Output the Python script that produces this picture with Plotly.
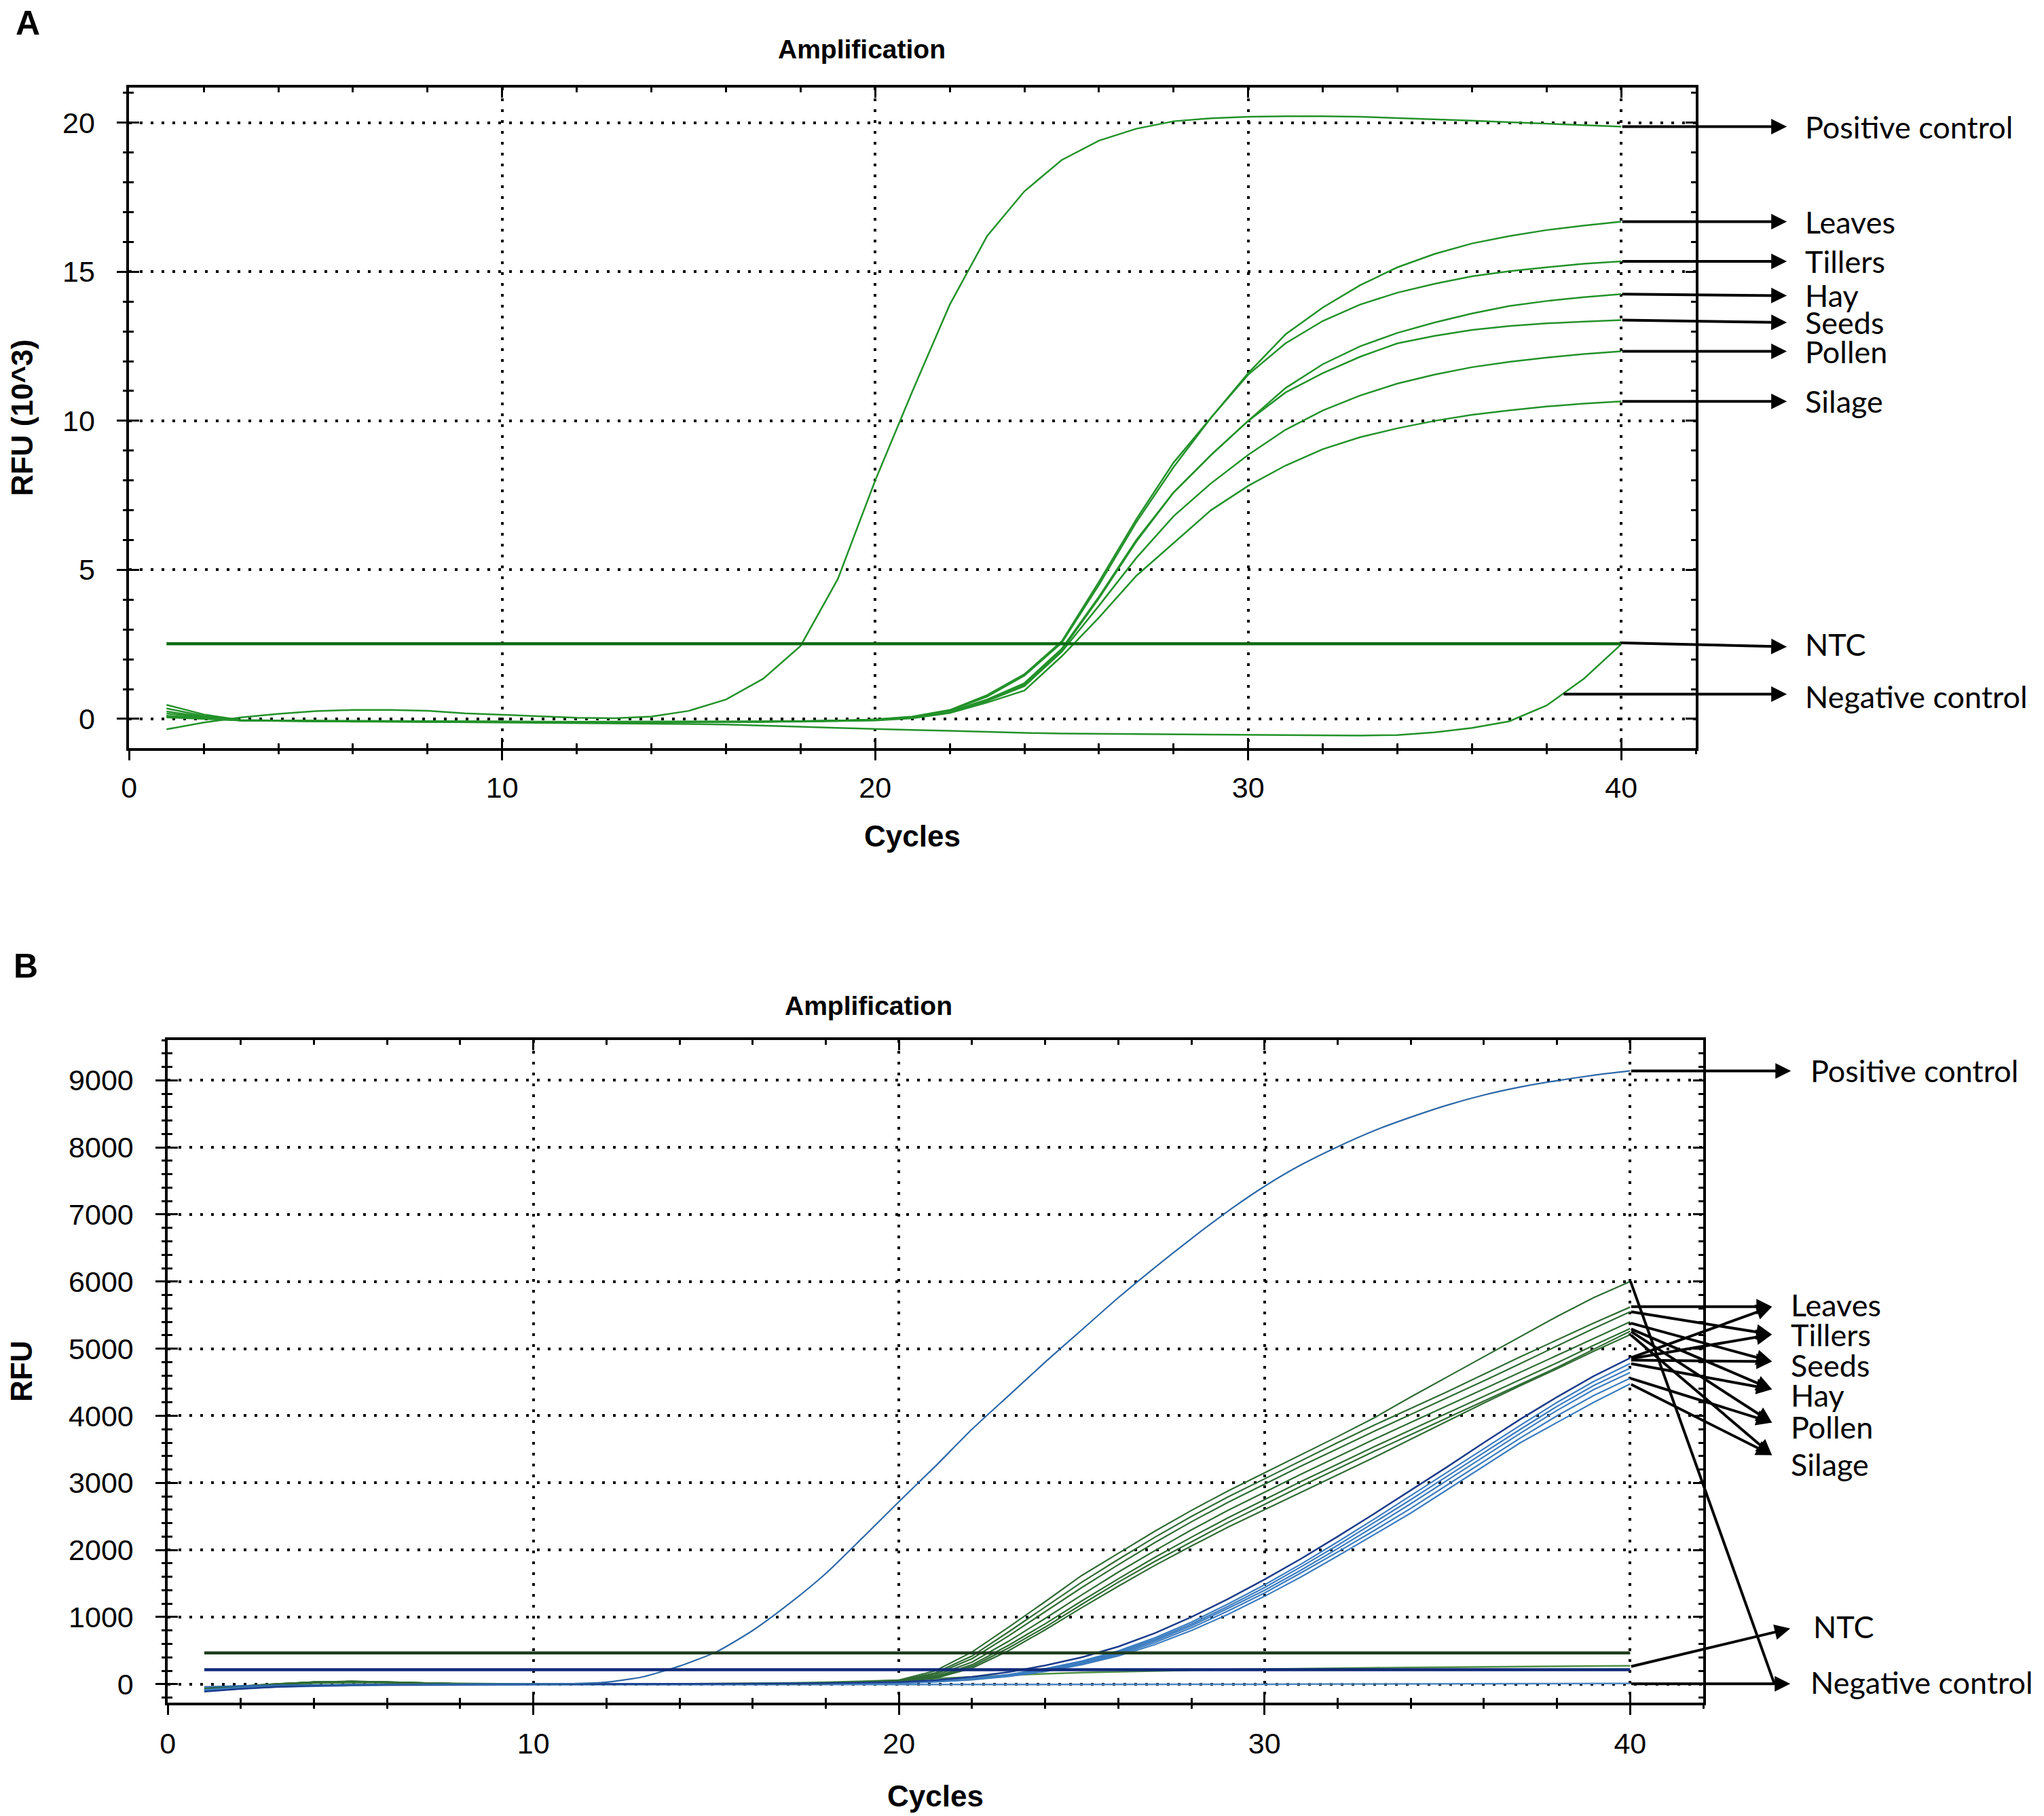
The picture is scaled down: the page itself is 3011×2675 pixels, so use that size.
import plotly.graph_objects as go

W, H = 3011, 2675
PAGE = 8  # default body margin of the html page, in px

cycles = list(range(1, 41))
x_ticks = [0, 10, 20, 30, 40]

# ---------------- panel A : RFU (10^3) ----------------
a_y_ticks = [0, 5, 10, 15, 20]

a_positive = [-0.35, -0.12, 0.05, 0.17, 0.26, 0.3, 0.3, 0.27, 0.19, 0.14,
              0.08, 0.04, 0.02, 0.08, 0.27, 0.65, 1.35, 2.45, 4.7, 8.0,
              11.0, 13.9, 16.2, 17.7, 18.75, 19.4, 19.8, 20.05, 20.15, 20.2,
              20.22, 20.22, 20.2, 20.16, 20.12, 20.07, 20.02, 19.97, 19.92, 19.87]
a_leaves = [0.47, 0.15, -0.04, -0.06, -0.07, -0.08, -0.08, -0.09, -0.09, -0.1,
            -0.1, -0.1, -0.1, -0.1, -0.1, -0.09, -0.09, -0.08, -0.06, -0.02,
            0.08, 0.3, 0.8, 1.5, 2.6, 4.6, 6.7, 8.6, 10.1, 11.6,
            12.9, 13.8, 14.55, 15.15, 15.6, 15.95, 16.2, 16.4, 16.55, 16.68]
a_tillers = [0.35, 0.1, -0.05, -0.07, -0.08, -0.09, -0.09, -0.1, -0.1, -0.11,
             -0.11, -0.11, -0.11, -0.11, -0.1, -0.1, -0.09, -0.08, -0.06, -0.02,
             0.07, 0.28, 0.75, 1.45, 2.55, 4.5, 6.6, 8.45, 10.1, 11.55,
             12.6, 13.35, 13.9, 14.3, 14.6, 14.85, 15.02, 15.15, 15.27, 15.35]
a_hay = [0.25, 0.07, -0.05, -0.07, -0.08, -0.08, -0.09, -0.09, -0.1, -0.1,
         -0.1, -0.11, -0.11, -0.1, -0.1, -0.1, -0.09, -0.08, -0.06, -0.03,
         0.06, 0.25, 0.65, 1.2, 2.35, 4.1, 6.0, 7.6, 8.85, 10.0,
         11.1, 11.9, 12.5, 12.95, 13.3, 13.6, 13.85, 14.02, 14.15, 14.25]
a_seeds = [0.18, 0.05, -0.05, -0.06, -0.07, -0.08, -0.08, -0.09, -0.09, -0.1,
           -0.1, -0.1, -0.1, -0.1, -0.1, -0.09, -0.09, -0.08, -0.06, -0.03,
           0.05, 0.24, 0.62, 1.15, 2.3, 4.05, 5.95, 7.6, 8.85, 10.0,
           10.95, 11.6, 12.15, 12.6, 12.85, 13.05, 13.18, 13.27, 13.33, 13.38]
a_pollen = [0.1, 0.02, -0.05, -0.06, -0.07, -0.07, -0.08, -0.08, -0.09, -0.09,
            -0.1, -0.1, -0.1, -0.1, -0.1, -0.1, -0.09, -0.08, -0.07, -0.04,
            0.04, 0.22, 0.6, 1.1, 2.25, 3.8, 5.4, 6.8, 7.9, 8.86,
            9.7, 10.35, 10.85, 11.25, 11.55, 11.8, 11.98, 12.12, 12.24, 12.33]
a_silage = [0.05, 0.0, -0.05, -0.06, -0.06, -0.07, -0.07, -0.08, -0.08, -0.09,
            -0.09, -0.1, -0.1, -0.1, -0.1, -0.1, -0.09, -0.09, -0.07, -0.05,
            0.02, 0.2, 0.55, 0.95, 2.1, 3.4, 4.8, 5.9, 7.0, 7.82,
            8.5, 9.05, 9.45, 9.75, 10.0, 10.2, 10.35, 10.48, 10.58, 10.65]
a_negative = [0.1, 0.02, -0.04, -0.06, -0.07, -0.08, -0.09, -0.1, -0.1, -0.11,
              -0.12, -0.13, -0.14, -0.15, -0.17, -0.19, -0.22, -0.26, -0.3, -0.34,
              -0.37, -0.4, -0.44, -0.47, -0.49, -0.5, -0.51, -0.52, -0.53, -0.54,
              -0.55, -0.56, -0.56, -0.54, -0.45, -0.3, -0.08, 0.45, 1.35, 2.5]
a_threshold = 2.52

a_labels = ["Positive control", "Leaves", "Tillers", "Hay", "Seeds",
            "Pollen", "Silage", "NTC", "Negative control"]
a_label_y = [19.87, 16.68, 15.35, 14.2, 13.3, 12.33, 10.65, 2.5, 0.75]
a_arrow_tail = [(40, 19.87), (40, 16.68), (40, 15.35), (40, 14.25), (40, 13.38),
                (40, 12.33), (40, 10.65), (40, 2.55), (38.43, 0.83)]
a_arrow_head_y = [19.87, 16.68, 15.35, 14.2, 13.3, 12.33, 10.65, 2.42, 0.83]

# ---------------- panel B : RFU ----------------
b_y_ticks = [0, 1000, 2000, 3000, 4000, 5000, 6000, 7000, 8000, 9000]

b_positive = [-40, -25, -15, -10, -5, -3, -2, -1, 0, 2,
              6, 30, 110, 270, 480, 800, 1200, 1650, 2180, 2720,
              3250, 3800, 4300, 4800, 5280, 5760, 6210, 6640, 7050, 7420,
              7740, 8010, 8250, 8450, 8630, 8780, 8900, 8995, 9075, 9140]

b_green = [
    [-90, -45, -5, 30, 40, 30, 15, 5, 0, 0,
     0, 0, 0, 0, 0, 5, 10, 20, 35, 60,
     200, 480, 850, 1230, 1620, 1950, 2280, 2590, 2880, 3150,
     3420, 3690, 3970, 4280, 4580, 4880, 5180, 5480, 5760, 6000],
    [-85, -40, -2, 32, 42, 32, 16, 6, 1, 0,
     0, 0, 0, 0, 0, 4, 8, 16, 30, 50,
     170, 420, 780, 1150, 1520, 1860, 2190, 2500, 2790, 3060,
     3330, 3600, 3860, 4110, 4360, 4620, 4880, 5130, 5380, 5620],
    [-80, -38, 0, 28, 38, 28, 14, 5, 1, 0,
     0, 0, 0, 0, 0, 4, 7, 14, 27, 45,
     150, 380, 720, 1080, 1440, 1780, 2110, 2420, 2710, 2980,
     3250, 3510, 3770, 4020, 4270, 4520, 4780, 5040, 5300, 5550],
    [-75, -35, 2, 30, 40, 30, 15, 6, 2, 0,
     0, 0, 0, 0, 0, 3, 6, 12, 24, 40,
     130, 330, 640, 980, 1330, 1670, 1990, 2300, 2590, 2860,
     3130, 3390, 3650, 3900, 4150, 4400, 4650, 4900, 5150, 5400],
    [-70, -32, 4, 32, 42, 32, 16, 6, 2, 0,
     0, 0, 0, 0, 0, 3, 5, 10, 20, 35,
     110, 290, 580, 900, 1240, 1570, 1890, 2190, 2480, 2750,
     3020, 3280, 3540, 3790, 4040, 4290, 4540, 4790, 5050, 5300],
    [-65, -30, 5, 30, 38, 28, 14, 5, 1, 0,
     0, 0, 0, 0, 0, 2, 5, 9, 18, 32,
     100, 265, 540, 850, 1190, 1520, 1830, 2120, 2410, 2680,
     2950, 3210, 3470, 3720, 3970, 4220, 4470, 4720, 4990, 5260],
    [-60, -28, 6, 28, 36, 26, 12, 4, 1, 0,
     0, 0, 0, 0, 0, 2, 4, 8, 16, 30,
     90, 240, 500, 810, 1140, 1460, 1770, 2060, 2340, 2600,
     2860, 3120, 3380, 3650, 3920, 4190, 4450, 4700, 4960, 5210],
]

b_blue_dark = [-110, -70, -40, -22, -12, -8, -5, -3, -2, -1,
               0, 0, 0, 2, 4, 6, 10, 15, 20, 30,
               60, 110, 180, 280, 400, 560, 760, 1000, 1270, 1560,
               1870, 2200, 2540, 2890, 3240, 3600, 3950, 4280, 4590, 4860]
b_blue = [
    [-105, -66, -38, -20, -11, -7, -4, -3, -2, -1,
     0, 0, 0, 1, 3, 5, 8, 12, 17, 24,
     45, 85, 145, 230, 345, 495, 690, 925, 1195, 1480,
     1790, 2120, 2460, 2810, 3160, 3510, 3860, 4200, 4510, 4780],
    [-100, -62, -36, -19, -10, -6, -4, -2, -1, 0,
     0, 0, 0, 1, 3, 5, 7, 11, 16, 22,
     42, 80, 138, 220, 330, 475, 665, 895, 1160, 1440,
     1750, 2070, 2410, 2750, 3100, 3450, 3800, 4140, 4450, 4710],
    [-95, -58, -34, -18, -10, -6, -4, -2, -1, 0,
     0, 0, 0, 1, 2, 4, 7, 10, 15, 20,
     40, 75, 130, 210, 320, 460, 645, 870, 1130, 1400,
     1700, 2020, 2350, 2690, 3040, 3390, 3740, 4080, 4390, 4645],
    [-90, -55, -32, -17, -9, -5, -3, -2, -1, 0,
     0, 0, 0, 1, 2, 4, 6, 10, 14, 20,
     38, 70, 125, 200, 305, 440, 620, 840, 1090, 1360,
     1660, 1970, 2290, 2620, 2970, 3320, 3670, 4000, 4300, 4560],
    [-85, -52, -30, -16, -9, -5, -3, -2, -1, 0,
     0, 0, 0, 1, 2, 3, 5, 9, 13, 18,
     35, 65, 115, 190, 290, 420, 590, 800, 1040, 1310,
     1600, 1910, 2230, 2550, 2900, 3250, 3600, 3900, 4200, 4475],
]

b_negative = [-90, -60, -40, -28, -20, -15, -12, -10, -9, -8,
              -8, -8, -8, -8, -8, -8, -7, -7, -6, -6,
              -6, -5, -5, -4, -4, -3, -3, -2, -2, -1,
              0, 1, 2, 3, 4, 5, 6, 8, 10, 12]
b_ntc = [-70, -40, -10, 15, 25, 20, 10, 5, 2, 0,
         0, 0, 2, 5, 8, 12, 18, 28, 42, 60,
         85, 110, 135, 155, 172, 186, 198, 208, 217, 225,
         232, 238, 244, 249, 254, 259, 263, 267, 271, 275]
b_threshold_green = 465
b_threshold_blue = 215

b_labels = ["Positive control", "Leaves", "Tillers", "Seeds", "Hay",
            "Pollen", "Silage", "NTC", "Negative control"]
b_label_y = [9144, 5651, 5205, 4752, 4307, 3836, 3279, 856, 26]
b_sample_head_y = [5626, 5212, 4808, 4394, 3899, 3414]
b_sample_tail_green = [5626, 5552, 5384, 5300, 5266, 5215]
b_sample_tail_blue = [4860, 4850, 4830, 4780, 4560, 4475]

# ---------------- styling ----------------
A_GREEN = "#23922a"
A_THRESH = "#0e6b12"
B_GREEN = "#2f6b33"
B_NTC = "#4f8f45"
B_BLUE = "#3b7cc0"
B_NAVY = "#1c3c8c"
B_POS = "#2d68a8"
B_NEG = "#4a86c0"
B_THRESH_G = "#1e3d1e"
B_THRESH_B = "#0f2a7a"

TICK_FONT = dict(family="Liberation Sans", size=43, color="black")
LABEL_FONT = dict(family="Lato", size=45, color="black")
BOLD_FONT = dict(family="Liberation Sans", size=44, color="black")


def fx(px):
    return (px - PAGE) / W


def fy(py):
    return 1 - (py - PAGE) / H


A_XDOM = [fx(179), fx(2496)]
A_YDOM = [fy(1102), fy(129)]
B_XDOM = [fx(236), fx(2507)]
B_YDOM = [fy(2508), fy(1532)]
A_XR, A_YR = [0, 42], [-0.98, 21.18]
B_XR, B_YR = [0, 42], [-275, 9600]


def main_axis(rng, domain, anchor, tickvals, minor_dtick, standoff):
    return dict(
        range=rng, domain=domain, anchor=anchor, autorange=False,
        tickmode="array", tickvals=tickvals, ticktext=[str(t) for t in tickvals],
        ticks="inside", ticklen=15, tickwidth=3, tickcolor="black",
        minor=dict(tickmode="linear", tick0=0, dtick=minor_dtick, ticks="inside",
                   ticklen=7, tickwidth=3, tickcolor="black", showgrid=False),
        showline=True, linewidth=3.5, linecolor="black", mirror="ticks",
        showgrid=True, gridcolor="black", gridwidth=3.5, griddash="4px,12px",
        zeroline=False, tickfont=TICK_FONT, ticklabelstandoff=standoff,
    )


def outer_ticks(base, anchor, rng, tickvals, minor_dtick):
    # second axis on top of the first, only to draw the outward half of the ticks
    return dict(
        overlaying=base, anchor=anchor, range=rng, autorange=False,
        tickmode="array", tickvals=tickvals,
        ticks="outside", ticklen=17, tickwidth=3, tickcolor="black",
        minor=dict(tickmode="linear", tick0=0, dtick=minor_dtick, ticks="outside",
                   ticklen=8, tickwidth=3, tickcolor="black", showgrid=False),
        showticklabels=False, showline=False, showgrid=False, zeroline=False,
    )


def arrow(xr, yr, tail, head, style=2):
    return dict(xref=xr, yref=yr, axref=xr, ayref=yr,
                x=head[0], y=head[1], ax=tail[0], ay=tail[1],
                text="", showarrow=True, arrowhead=style, arrowsize=1.15,
                arrowwidth=4, arrowcolor="black", standoff=0, startstandoff=0)


def label(xr, yr, y, text, shift):
    return dict(xref=xr, yref=yr, x=40, y=y, text=text, showarrow=False,
                xanchor="left", yanchor="middle", xshift=shift, font=LABEL_FONT)


def paper_text(px, py, text, size):
    return dict(xref="paper", yref="paper", x=fx(px), y=fy(py), text=text,
                showarrow=False, xanchor="center", yanchor="middle",
                font=dict(family="Liberation Sans", size=size, color="black"))


fig = go.Figure()

# panel A traces
for series in [a_leaves, a_tillers, a_hay, a_seeds, a_pollen, a_silage, a_negative, a_positive]:
    fig.add_trace(go.Scatter(x=cycles, y=series, mode="lines",
                             line=dict(color=A_GREEN, width=2.5), xaxis="x", yaxis="y"))
fig.add_trace(go.Scatter(x=[cycles[0], cycles[-1]], y=[a_threshold, a_threshold], mode="lines",
                         line=dict(color=A_THRESH, width=4.5), xaxis="x", yaxis="y"))

# panel B traces
fig.add_trace(go.Scatter(x=cycles, y=b_negative, mode="lines",
                         line=dict(color=B_NEG, width=2.5), xaxis="x2", yaxis="y2"))
fig.add_trace(go.Scatter(x=cycles, y=b_ntc, mode="lines",
                         line=dict(color=B_NTC, width=2.5), xaxis="x2", yaxis="y2"))
for series in b_green:
    fig.add_trace(go.Scatter(x=cycles, y=series, mode="lines",
                             line=dict(color=B_GREEN, width=2.2), xaxis="x2", yaxis="y2"))
for series in b_blue:
    fig.add_trace(go.Scatter(x=cycles, y=series, mode="lines",
                             line=dict(color=B_BLUE, width=2.2), xaxis="x2", yaxis="y2"))
fig.add_trace(go.Scatter(x=cycles, y=b_blue_dark, mode="lines",
                         line=dict(color=B_NAVY, width=2.5), xaxis="x2", yaxis="y2"))
fig.add_trace(go.Scatter(x=cycles, y=b_positive, mode="lines",
                         line=dict(color=B_POS, width=2.2, shape="spline", smoothing=0.6),
                         xaxis="x2", yaxis="y2"))
fig.add_trace(go.Scatter(x=[cycles[0], cycles[-1]], y=[b_threshold_green] * 2, mode="lines",
                         line=dict(color=B_THRESH_G, width=4.5), xaxis="x2", yaxis="y2"))
fig.add_trace(go.Scatter(x=[cycles[0], cycles[-1]], y=[b_threshold_blue] * 2, mode="lines",
                         line=dict(color=B_THRESH_B, width=4.5), xaxis="x2", yaxis="y2"))

# empty traces so the tick-only overlay axes exist
fig.add_trace(go.Scatter(x=[None], y=[None], xaxis="x3", yaxis="y3", hoverinfo="skip"))
fig.add_trace(go.Scatter(x=[None], y=[None], xaxis="x4", yaxis="y4", hoverinfo="skip"))

ann = []

# panel A arrows and labels
for tail, hy in zip(a_arrow_tail, a_arrow_head_y):
    ann.append(arrow("x", "y", tail, (44.44, hy)))
for text, y in zip(a_labels, a_label_y):
    ann.append(label("x", "y", y, text, 269))

# panel B arrows and labels
ann.append(arrow("x2", "y2", (40, b_positive[-1]), (44.4, b_positive[-1])))
for hy, tg, tb in zip(b_sample_head_y, b_sample_tail_green, b_sample_tail_blue):
    ann.append(arrow("x2", "y2", (40, tg), (43.88, hy)))
    ann.append(arrow("x2", "y2", (40, tb), (43.88, hy)))
ann.append(arrow("x2", "y2", (40, 260), (44.38, 830)))
ann.append(arrow("x2", "y2", (40, 5), (44.38, 5)))
ann.append(arrow("x2", "y2", (40, 6020), (43.94, 15), style=0))
b_shift = [264, 235, 235, 235, 235, 235, 235, 268, 264]
for text, y, s in zip(b_labels, b_label_y, b_shift):
    ann.append(label("x2", "y2", y, text, s))

# titles, axis titles, panel letters
ann += [
    paper_text(1262, 73, "<b>Amplification</b>", 39),
    paper_text(1273, 1482, "<b>Amplification</b>", 39),
    paper_text(29, 34, "<b>A</b>", 50),
    paper_text(26, 1423, "<b>B</b>", 50),
    dict(xref="x domain", yref="y domain", x=0.5, y=0, yshift=-129, text="<b>Cycles</b>",
         showarrow=False, xanchor="center", yanchor="middle", font=BOLD_FONT),
    dict(xref="x2 domain", yref="y2 domain", x=0.5, y=0, yshift=-137, text="<b>Cycles</b>",
         showarrow=False, xanchor="center", yanchor="middle", font=BOLD_FONT),
    dict(xref="x domain", yref="y domain", x=0, y=0.5, xshift=-158, text="<b>RFU (10^3)</b>",
         showarrow=False, textangle=-90, xanchor="center", yanchor="middle", font=BOLD_FONT),
    dict(xref="x2 domain", yref="y2 domain", x=0, y=0.5, xshift=-215, text="<b>RFU</b>",
         showarrow=False, textangle=-90, xanchor="center", yanchor="middle", font=BOLD_FONT),
]

fig.update_layout(
    width=W, height=H, autosize=False,
    margin=dict(l=0, r=0, t=0, b=0),
    paper_bgcolor="white", plot_bgcolor="white",
    showlegend=False,
    font=dict(family="Liberation Sans", color="black"),
    xaxis=main_axis(A_XR, A_XDOM, "y", x_ticks, 2, 18),
    yaxis=main_axis(A_YR, A_YDOM, "x", a_y_ticks, 1, 38),
    xaxis2=main_axis(B_XR, B_XDOM, "y2", x_ticks, 2, 20),
    yaxis2=main_axis(B_YR, B_YDOM, "x2", b_y_ticks, 200, 38),
    xaxis3=outer_ticks("x", "y3", A_XR, x_ticks, 2),
    yaxis3=outer_ticks("y", "x3", A_YR, a_y_ticks, 1),
    xaxis4=outer_ticks("x2", "y4", B_XR, x_ticks, 2),
    yaxis4=outer_ticks("y2", "x4", B_YR, b_y_ticks, 200),
    annotations=ann,
)

fig.write_html("out.html")
